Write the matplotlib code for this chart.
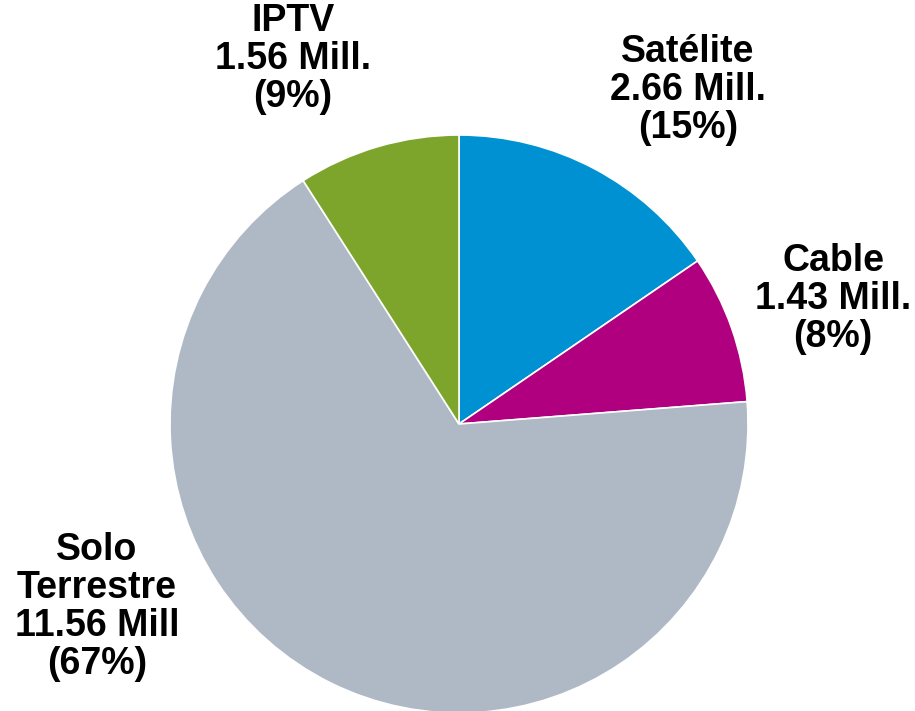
import matplotlib
matplotlib.use("Agg")
import matplotlib.pyplot as plt

categories = ["Satélite", "Cable", "Solo\nTerrestre", "IPTV"]
values = [2.66, 1.43, 11.56, 1.56]
value_labels = ["2.66 Mill.", "1.43 Mill.", "11.56 Mill", "1.56 Mill."]
pct_labels = ["(15%)", "(8%)", "(67%)", "(9%)"]
colors = ["#0091D2", "#B0007F", "#AFB9C5", "#7EA52B"]

plt.rcParams['font.family'] = ['Liberation Sans', 'DejaVu Sans']

fig = plt.figure(figsize=(9.15, 7.11), dpi=100)
ax = fig.add_axes([0, 0, 1, 1])

ax.pie(values, colors=colors, startangle=90, counterclock=False,
       center=(459, 711 - 424), radius=289,
       wedgeprops=dict(edgecolor='white', linewidth=1.2), frame=True)
ax.set_xlim(0, 915)
ax.set_ylim(0, 711)
ax.set_aspect('equal')
ax.axis('off')

label_pos = [(688, 711 - 90), (833, 711 - 299), (97, 711 - 607), (293, 711 - 59)]
for cat, vl, pl, (x, y) in zip(categories, value_labels, pct_labels, label_pos):
    ax.text(x, y, f"{cat}\n{vl}\n{pl}", ha='center', va='center',
            fontsize=27, fontweight='bold', color='black', linespacing=1.08)

fig.savefig("out.png", dpi=100)
